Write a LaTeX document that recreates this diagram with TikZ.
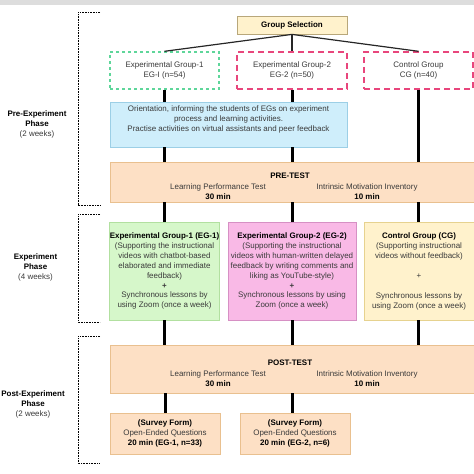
\documentclass[tikz,border=0pt]{standalone}
\usepackage{fontspec}
\setmainfont{Liberation Sans}
\definecolor{txt}{HTML}{3A3A3A}
\definecolor{gsfill}{HTML}{FFF2CC}
\definecolor{gsdraw}{HTML}{B8A77A}
\definecolor{dgreen}{HTML}{5ED69A}
\definecolor{dpink}{HTML}{E8467C}
\definecolor{orfill}{HTML}{CFEEFB}
\definecolor{ordraw}{HTML}{9CCFE6}
\definecolor{ptfill}{HTML}{FDE0C5}
\definecolor{ptdraw}{HTML}{E9C08F}
\definecolor{gfill}{HTML}{D6F7CA}
\definecolor{gdraw}{HTML}{B2E0A0}
\definecolor{pfill}{HTML}{F9B9E6}
\definecolor{pdraw}{HTML}{D690C4}
\definecolor{yfill}{HTML}{FFF2CC}
\definecolor{ydraw}{HTML}{E6D28F}
\definecolor{topgrey}{HTML}{DDDDDD}
\newcommand\dgfs{\fontsize{8}{10}\selectfont}
\begin{document}
\begin{tikzpicture}[x=1bp,y=-1bp,
  box/.style={draw, rectangle, inner sep=0pt, line width=0.8bp, font=\dgfs, align=center, text=txt},
  txtnode/.style={inner sep=0pt, font=\dgfs, align=center, text=txt},
  grpbox/.style={box, line width=1.4bp, fill=white},
  thin/.style={line width=1.2bp, black!85},
  thickline/.style={line width=3bp, black},
  bracket/.style={line width=0.8bp, dash pattern=on 0.8bp off 0.8bp, black}]
\useasboundingbox (0,0) rectangle (474,474);
\fill[topgrey] (0,0) rectangle (474,5);

% group selection
\node[box, fill=gsfill, draw=gsdraw, minimum width=110bp, minimum height=18bp] (gs) at (292,25) {\textbf{\color{black}Group Selection}};

% groups
\node[grpbox, draw=dgreen, dash pattern=on 3bp off 3bp, minimum width=109bp, minimum height=37bp] (g1) at (164.5,70.5) {Experimental Group-1\\EG-I (n=54)};
\node[grpbox, draw=dpink, dash pattern=on 6bp off 4bp, minimum width=110bp, minimum height=37bp] (g2) at (292,70.5) {Experimental Group-2\\EG-2 (n=50)};
\node[grpbox, draw=dpink, dash pattern=on 6bp off 4bp, minimum width=109bp, minimum height=37bp] (g3) at (418.5,70.5) {Control Group\\CG (n=40)};

% orientation
\node[box, fill=orfill, draw=ordraw, minimum width=237bp, minimum height=45bp] (or) at (228.5,124.5) {};
\node[txtnode] (ortxt) at (228.5,119.5) {Orientation, informing the students of EGs on experiment\\process and learning activities.\\Practise activities on virtual assistants and peer feedback};

% pre-test
\node[box, fill=ptfill, draw=ptdraw, minimum width=368bp, minimum height=40bp] (pre) at (294,182) {};
\node[txtnode, text=black] (pretitle) at (290,176) {\textbf{PRE-TEST}};
\node[txtnode] (prel) at (218,191.5) {Learning Performance Test\\\textbf{\color{black}30 min}};
\node[txtnode] (prer) at (367,191.5) {Intrinsic Motivation Inventory\\\textbf{\color{black}10 min}};

% experiment
\node[box, fill=gfill, draw=gdraw, minimum width=109bp, minimum height=98bp] (e1) at (164.5,271) {\textbf{\color{black}Experimental Group-1 (EG-1)}\\(Supporting the instructional\\videos with chatbot-based\\elaborated and immediate\\feedback)\\\textbf{+}\\Synchronous lessons by\\using Zoom (once a week)};
\node[box, fill=pfill, draw=pdraw, minimum width=128bp, minimum height=98bp] (e2) at (292,271) {\textbf{\color{black}Experimental Group-2 (EG-2)}\\(Supporting the instructional\\videos with human-written delayed\\feedback by writing comments and\\liking as YouTube-style)\\\textbf{+}\\Synchronous lessons by using\\Zoom (once a week)};
\node[box, fill=yfill, draw=ydraw, minimum width=114bp, minimum height=98bp] (e3) at (421,271) {};
\node[txtnode] (e3txt) at (419,271.5) {\textbf{\color{black}Control Group (CG)}\\(Supporting instructional\\videos without feedback)\\[10bp]+\\[10bp]Synchronous lessons by\\using Zoom (once a week)};

% post-test
\node[box, fill=ptfill, draw=ptdraw, minimum width=368bp, minimum height=48bp] (post) at (294,369) {};
\node[txtnode, text=black] (posttitle) at (290,363) {\textbf{POST-TEST}};
\node[txtnode] (postl) at (218,378.5) {Learning Performance Test\\\textbf{\color{black}30 min}};
\node[txtnode] (postr) at (367,378.5) {Intrinsic Motivation Inventory\\\textbf{\color{black}10 min}};

% survey
\node[box, fill=ptfill, draw=ptdraw, minimum width=110bp, minimum height=41bp] (s1) at (165,433.5) {\textbf{\color{black}(Survey Form)}\\Open-Ended Questions\\\textbf{\color{black}20 min (EG-1, n=33)}};
\node[box, fill=ptfill, draw=ptdraw, minimum width=110bp, minimum height=41bp] (s2) at (295,433.5) {\textbf{\color{black}(Survey Form)}\\Open-Ended Questions\\\textbf{\color{black}20 min (EG-2, n=6)}};

% connectors from group selection
\draw[thin] (gs.south) -- (g1.north);
\draw[thin] (gs.south) -- (g2.north);
\draw[thin] (gs.south) -- (g3.north);

% thick vertical connectors
\draw[thickline] (g1.south) -- (g1.south |- or.north);
\draw[thickline] (g2.south) -- (g2.south |- or.north);
\draw[thickline] (g1.south |- or.south) -- (g1.south |- pre.north);
\draw[thickline] (g2.south |- or.south) -- (g2.south |- pre.north);
\draw[thickline] (g3.south) -- (g3.south |- pre.north);
\draw[thickline] (e1.north |- pre.south) -- (e1.north);
\draw[thickline] (e2.north |- pre.south) -- (e2.north);
\draw[thickline] (g3.south |- pre.south) -- (g3.south |- e3.north);
\draw[thickline] (e1.south) -- (e1.south |- post.north);
\draw[thickline] (e2.south) -- (e2.south |- post.north);
\draw[thickline] (g3.south |- e3.south) -- (g3.south |- post.north);
\draw[thickline] (s1.north |- post.south) -- (s1.north);
\draw[thickline] (e2.south |- post.south) -- (e2.south |- s2.north);

% phase brackets
\draw[bracket] (100,12) -- (78,12) -- (78,205) -- (100,205);
\draw[bracket] (100,214) -- (78,214) -- (78,322) -- (100,322);
\draw[bracket] (100,336) -- (78,336) -- (78,463) -- (100,463);

% phase labels
\node[txtnode, text=black] (ph1) at (37,124) {\textbf{Pre-Experiment}\\\textbf{Phase}\\{\color{txt}(2 weeks)}};
\node[txtnode, text=black] (ph2) at (35.5,267) {\textbf{Experiment}\\\textbf{Phase}\\{\color{txt}(4 weeks)}};
\node[txtnode, text=black] (ph3) at (33,404) {\textbf{Post-Experiment}\\\textbf{Phase}\\{\color{txt}(2 weeks)}};
\end{tikzpicture}
\end{document}
